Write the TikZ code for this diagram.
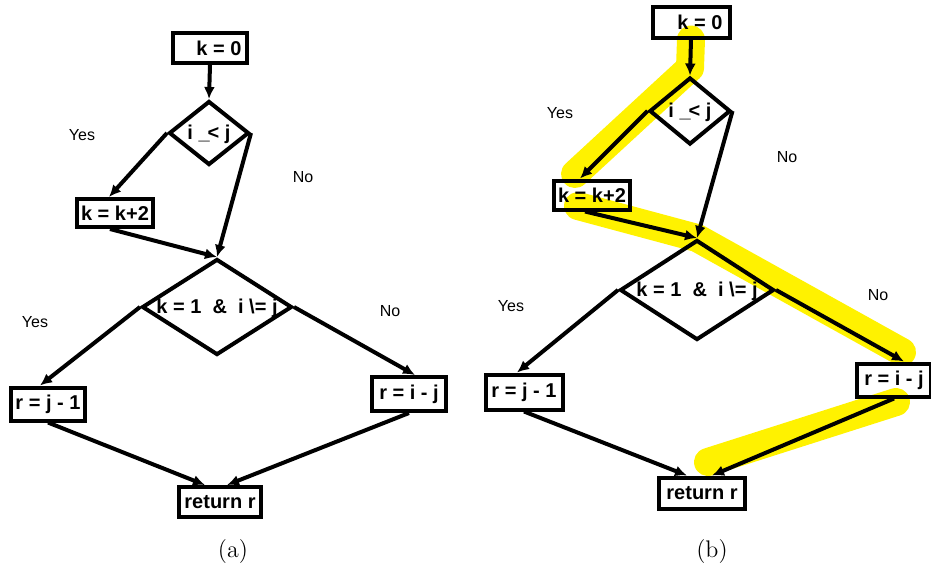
\documentclass[tikz,border=0pt]{standalone}
\usepackage{fontspec}
\setsansfont{Liberation Sans}
\usetikzlibrary{shapes.geometric,arrows.meta}
\pgfdeclarelayer{background}
\pgfsetlayers{background,main}
\tikzset{
  stepbox/.style 2 args={draw, line width=2pt, inner sep=0pt,
    minimum width=#1, minimum height=#2,
    font=\sffamily\bfseries\fontsize{10}{11}\selectfont},
  decision/.style 2 args={diamond, draw, line width=2pt, inner sep=0pt,
    shape aspect=1.5, text height=6pt, text depth=0pt,
    minimum width=#1, minimum height=#2,
    font=\sffamily\bfseries\fontsize{10}{11}\selectfont},
  answer/.style={font=\sffamily\fontsize{8}{9}\selectfont, inner sep=0pt},
  flow/.style={line width=2pt, -{Latex[length=6pt,width=5.5pt]}},
  marker/.style={line width=14pt, color=yellow, line cap=round, line join=round},
}

\begin{document}
\begin{tikzpicture}[x=0.5pt,y=-0.5pt]
	\useasboundingbox (0,0) rectangle (931,569);
	% nodes (a)
	\node [stepbox={37pt}{15pt}] (k0a) at (210,48) {\hspace*{9pt}k = 0};
	\node [decision={40pt}{32pt}] (d1a) at (209,133) {i \_\kern-1pt< j};
	\node [stepbox={38pt}{14pt}] (k2a) at (115,213) {k = k+2};
	\node [decision={75pt}{48pt}] (d2a) at (217,307) {k = 1~~\&~~i \textbackslash= j};
	\node [stepbox={37pt}{16.5pt}] (r1a) at (48,404) {r = j - 1};
	\node [stepbox={37pt}{17pt}] (r2a) at (409,394) {r = i - j};
	\node [stepbox={41pt}{15pt}] (reta) at (220,502) {return r};
	% labels (a)
	\node [answer] (y1a) at (82,135) {Yes};
	\node [answer] (n1a) at (303,177) {No};
	\node [answer] (y2a) at (35,322) {Yes};
	\node [answer] (n2a) at (390,311) {No};
	\node [font=\fontsize{12}{14}\selectfont] (capa) at (233,551) {(a)};
	% edges (a)
	\draw [flow] (k0a.south) -- (d1a.north);
	\draw [flow] (d1a.west) -- ([xshift=-3pt]k2a.north);
	\draw [flow] (d1a.east) -- (d2a.north);
	\draw [flow] ([xshift=-2.5pt]k2a.south) -- (d2a.north);
	\draw [flow] (d2a.west) -- ([xshift=-4pt]r1a.north);
	\draw [flow] (d2a.east) -- ([xshift=3pt]r2a.north);
	\draw [flow] (r1a.south) -- ([xshift=-7.5pt]reta.north);
	\draw [flow] (r2a.south) -- ([xshift=3.5pt]reta.north);

	% nodes (b)
	\node [stepbox={38.5pt}{15.5pt}] (k0b) at (691,22) {\hspace*{9pt}k = 0};
	\node [decision={40.5pt}{33.5pt}] (d1b) at (690,111) {i \_\kern-1pt< j};
	\node [stepbox={38pt}{14.5pt}] (k2b) at (592,195) {k = k+2};
	\node [decision={77pt}{50pt}] (d2b) at (697,290) {k = 1~~\&~~i \textbackslash= j};
	\node [stepbox={38.5pt}{17.5pt}] (r1b) at (524,392) {r = j - 1};
	\node [stepbox={37pt}{16.5pt}] (r2b) at (894,380) {r = i - j};
	\node [stepbox={43pt}{15.5pt}] (retb) at (702,493) {return r};
	% labels (b)
	\node [answer] (y1b) at (560,113) {Yes};
	\node [answer] (n1b) at (787,157) {No};
	\node [answer] (y2b) at (511,306) {Yes};
	\node [answer] (n2b) at (878,295) {No};
	\node [font=\fontsize{12}{14}\selectfont] (capb) at (712,551) {(b)};
	% edges (b)
	\draw [flow] (k0b.south) -- (d1b.north);
	\draw [flow] (d1b.west) -- ([xshift=-6pt]k2b.north);
	\draw [flow] (d1b.east) -- (d2b.north);
	\draw [flow] ([xshift=-3.5pt]k2b.south) -- (d2b.north);
	\draw [flow] (d2b.west) -- ([xshift=-3.5pt]r1b.north);
	\draw [flow] (d2b.east) -- ([xshift=5pt]r2b.north);
	\draw [flow] (r1b.south) -- ([xshift=-7.5pt]retb.north);
	\draw [flow] (r2b.south) -- ([xshift=5pt]retb.north);

	% highlighted path
	\coordinate (hl1) at (690,68);
	\coordinate (hl2) at (575,174);
	\coordinate (hl3) at (578,206);
	\coordinate (hl4) at (902,352);
	\coordinate (hl5) at (896,402);
	\coordinate (hl6) at (708,462);
	\begin{pgfonlayer}{background}
		\draw [marker] (k0b.south) -- (hl1) -- (hl2);
		\draw [marker] (hl3) -- (d2b.north) -- (hl4);
		\draw [marker] (hl5) -- (hl6);
	\end{pgfonlayer}
\end{tikzpicture}
\end{document}
